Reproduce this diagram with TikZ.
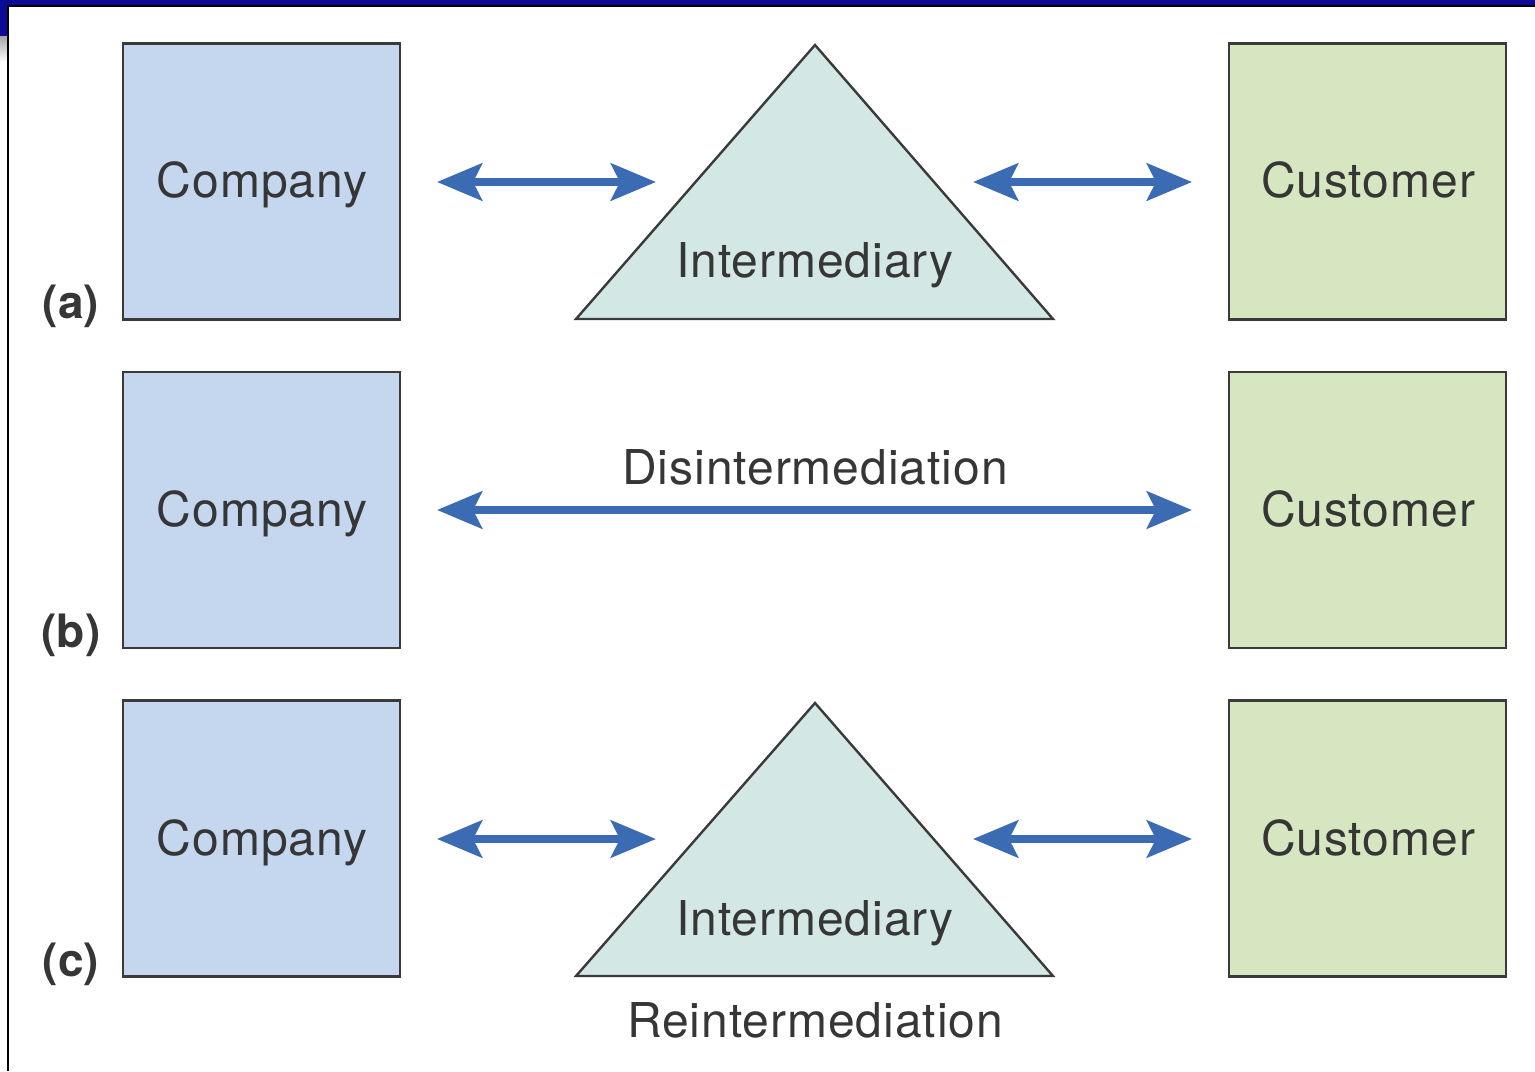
\documentclass[tikz,border=0pt]{standalone}
\usepackage{fontspec}
\setmainfont{TeX Gyre Heros}
\newfontfamily\widehelv[LetterSpace=2]{TeX Gyre Heros}
\usetikzlibrary{arrows.meta}
\definecolor{framebl}{HTML}{0B0B98}
\definecolor{compfill}{HTML}{C4D7EE}
\definecolor{custfill}{HTML}{D5E6C1}
\definecolor{trifill}{HTML}{D3E7E4}
\definecolor{edgegray}{HTML}{3A3A3A}
\definecolor{txtgray}{HTML}{363636}
\definecolor{arrowbl}{HTML}{3A6BB3}
\tikzset{
  sq/.style={draw=edgegray, line width=1.25pt, minimum width=138.5pt,
    minimum height=138pt, inner sep=0pt, outer sep=0pt},
  compbox/.style={sq, fill=compfill},
  custbox/.style={sq, fill=custfill},
  tri/.style={draw=edgegray, line width=1.2pt, fill=trifill, line join=miter},
  lbl/.style={text=txtgray, inner sep=0pt, font=\widehelv\fontsize{24}{28}\selectfont},
  rowlbl/.style={text=txtgray, inner sep=0pt, font=\fontsize{23}{28}\selectfont\bfseries},
  dbl/.style={draw=arrowbl, line width=4pt,
    {Stealth[length=22.5pt, width=18.5pt, inset=4.5pt]}-{Stealth[length=22.5pt, width=18.5pt, inset=4.5pt]}}
}
\begin{document}
\begin{tikzpicture}[x=0.5pt, y=-0.5pt]
\useasboundingbox (0,0) rectangle (1535,1071);
% window frame
\fill[framebl] (0,0) rectangle (1535,5.5);
\fill[framebl] (0,0) rectangle (7,36);
\shade[top color=gray!70, bottom color=white] (0,36) rectangle (7,62);
\draw[black, line width=1pt] (7.5,1071) -- (7.5,5.8) -- (1535,5.8);

% ---- row (a) ----
\node[compbox] (ca) at (261.5,181.5) {};
\node[custbox] (cua) at (1367.5,181.5) {};
\draw[tri] (576,319) -- (815,45) -- (1053,319) -- cycle;
\node[lbl, anchor=base] (tca) at (262,197) {Company};
\node[lbl, anchor=base] (tcua) at (1368,197) {Customer};
\node[lbl, anchor=base] (tia) at (815,277) {Intermediary};
\node[rowlbl, anchor=base] (la) at (71,318) {(a)};
\coordinate (a1) at (437,182);
\coordinate (a2) at (656,182);
\coordinate (a3) at (973,182);
\coordinate (a4) at (1192,182);
\draw[dbl] (a1) -- (a2);
\draw[dbl] (a3) -- (a4);

% ---- row (b) ----
\node[compbox] (cb) at (261.5,510) {};
\node[custbox] (cub) at (1367.5,510) {};
\node[lbl, anchor=base] (tcb) at (262,526) {Company};
\node[lbl, anchor=base] (tcub) at (1368,526) {Customer};
\node[lbl, anchor=base] (tdis) at (815,484) {Disintermediation};
\node[rowlbl, anchor=base] (lb) at (71,647) {(b)};
\coordinate (b1) at (437,510);
\coordinate (b2) at (1192,510);
\draw[dbl] (b1) -- (b2);

% ---- row (c) ----
\node[compbox] (cc) at (261.5,838.5) {};
\node[custbox] (cuc) at (1367.5,838.5) {};
\draw[tri] (576,976) -- (815,703) -- (1053,976) -- cycle;
\node[lbl, anchor=base] (tcc) at (262,855) {Company};
\node[lbl, anchor=base] (tcuc) at (1368,855) {Customer};
\node[lbl, anchor=base] (tic) at (815,935) {Intermediary};
\node[lbl, anchor=base] (trei) at (815,1037) {Reintermediation};
\node[rowlbl, anchor=base] (lc) at (71,976) {(c)};
\coordinate (c1) at (437,839);
\coordinate (c2) at (656,839);
\coordinate (c3) at (973,839);
\coordinate (c4) at (1192,839);
\draw[dbl] (c1) -- (c2);
\draw[dbl] (c3) -- (c4);
\end{tikzpicture}
\end{document}
